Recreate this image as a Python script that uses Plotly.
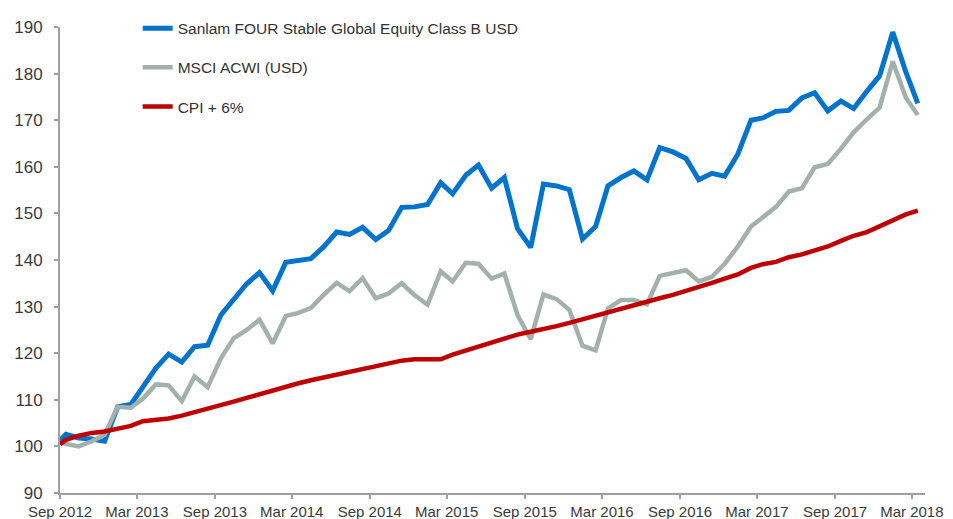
import plotly.graph_objects as go

# Monthly observation dates: base point at start, then mid-month points
months = [(2012 + (8 + i) // 12, (8 + i) % 12 + 1) for i in range(67)]
dates = ["2012-09-01"] + [f"{y}-{m:02d}-15" for y, m in months]

sanlam = [101.2, 102.6, 101.8, 101.6, 101.1, 108.5, 109.0, 112.6, 116.8, 119.8,
          118.1, 121.4, 121.7, 128.2, 131.6, 134.9, 137.3, 133.4, 139.5, 139.8,
          140.3, 142.8, 146.0, 145.5, 147.0, 144.4, 146.3, 151.3, 151.4, 151.9,
          156.6, 154.2, 158.2, 160.4, 155.4, 157.7, 146.7, 142.7, 156.3, 155.9,
          155.1, 144.5, 147.2, 155.9, 157.7, 159.1, 157.2, 164.1, 163.2, 161.8,
          157.2, 158.6, 158.0, 162.7, 170.0, 170.5, 171.9, 172.1, 174.8, 175.9,
          172.0, 174.1, 172.5, 176.2, 179.5, 188.9, 180.3, 173.6]

msci = [100.8, 100.5, 100.0, 101.1, 102.5, 108.5, 108.3, 110.2, 113.3, 113.1,
        109.7, 115.0, 112.7, 118.9, 123.2, 125.0, 127.2, 122.1, 128.0, 128.6,
        129.7, 132.5, 135.1, 133.3, 136.1, 131.8, 132.8, 135.0, 132.5, 130.4,
        137.6, 135.4, 139.4, 139.2, 136.0, 137.1, 128.2, 123.0, 132.6, 131.6,
        129.3, 121.6, 120.6, 129.6, 131.4, 131.4, 130.5, 136.6, 137.1, 137.8,
        135.4, 136.4, 139.2, 142.9, 147.2, 149.3, 151.4, 154.7, 155.4, 159.9,
        160.6, 163.9, 167.4, 170.2, 172.7, 182.6, 174.8, 171.1]

cpi = [100.5, 101.4, 102.3, 102.9, 103.2, 103.7, 104.4, 105.4, 105.6, 106.0,
       106.6, 107.4, 108.2, 109.0, 109.6, 110.4, 111.2, 112.1, 112.9, 113.5,
       114.2, 114.8, 115.4, 116.1, 116.7, 117.3, 117.9, 118.4, 118.7, 118.8,
       118.7, 119.7, 120.6, 121.3, 122.2, 123.1, 124.0, 124.6, 125.1, 125.8,
       126.5, 127.3, 127.9, 128.6, 129.4, 130.2, 131.0, 131.8, 132.5, 133.3,
       134.2, 135.1, 136.0, 136.9, 138.3, 139.1, 139.6, 140.6, 141.2, 142.0,
       142.9, 144.1, 145.2, 146.0, 147.3, 148.4, 149.8, 150.6]

series_names = ["Sanlam FOUR Stable Global Equity Class B USD", "MSCI ACWI (USD)", "CPI + 6%"]
tick_dates = [f"{2012 + (8 + 6 * j) // 12}-{(8 + 6 * j) % 12 + 1:02d}-01" for j in range(12)]
tick_labels = ["Sep 2012", "Mar 2013", "Sep 2013", "Mar 2014", "Sep 2014", "Mar 2015",
               "Sep 2015", "Mar 2016", "Sep 2016", "Mar 2017", "Sep 2017", "Mar 2018"]
y_ticks = [90, 100, 110, 120, 130, 140, 150, 160, 170, 180, 190]

fig = go.Figure()
styles = [("#0073CC", 5), ("#A2B1AC", 4.5), ("#C00000", 4.5)]
for name, vals, (col, w), grp in zip(series_names, [sanlam, msci, cpi], styles, ["a", "b", "c"]):
    fig.add_trace(go.Scatter(x=dates, y=vals, mode="lines", name=name, legendgroup=grp,
                             line=dict(color=col, width=w)))

fig.update_layout(
    width=953, height=519,
    margin=dict(l=60, r=28, t=22, b=26),
    paper_bgcolor="white", plot_bgcolor="white",
    font=dict(family="Liberation Sans, Arial, sans-serif", color="#3a3a3a"),
    showlegend=True,
    legend=dict(x=0.0898, y=1.033, xanchor="left", yanchor="top",
                font=dict(size=15.5, color="#333333"),
                bgcolor="rgba(0,0,0,0)", tracegroupgap=16, itemwidth=30),
    xaxis=dict(type="date", range=["2012-09-01", "2018-04-01"], automargin=False,
               tickvals=tick_dates, ticktext=tick_labels,
               showgrid=False, zeroline=False, showline=True, linecolor="#A0A0A0", linewidth=2,
               ticks="outside", ticklen=4, tickcolor="#A0A0A0", tickwidth=1.5,
               tickfont=dict(size=15, color="#3a3a3a")),
    yaxis=dict(range=[90, 190], tickvals=y_ticks, automargin=False,
               showgrid=False, zeroline=False, showline=True, linecolor="#A0A0A0", linewidth=2,
               ticks="outside", ticklen=4, tickcolor="#A0A0A0", tickwidth=1.5,
               tickfont=dict(size=17, color="#3a3a3a"), ticklabelstandoff=8),
)

fig.write_html("out.html", config={"displayModeBar": False},
               post_script="document.body.style.margin='0';")
